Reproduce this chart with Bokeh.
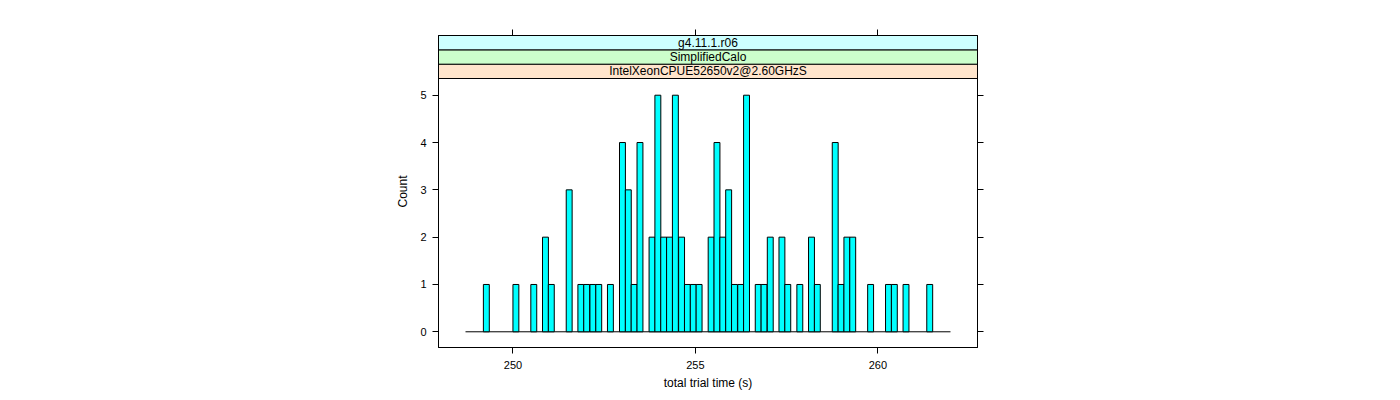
from bokeh.plotting import figure
from bokeh.models import Range1d, LinearAxis, FixedTicker
from bokeh.core.properties import value
from bokeh.embed import file_html
from bokeh.resources import INLINE

# ---- data ----
bin_left = [249.19, 250.00, 250.49, 250.81, 250.97, 251.46, 251.78, 251.94, 252.11,
            252.27, 252.59, 252.92, 253.08, 253.24, 253.40, 253.73, 253.89, 254.05,
            254.21, 254.37, 254.54, 254.70, 254.86, 255.02, 255.35, 255.51, 255.67,
            255.83, 255.99, 256.16, 256.32, 256.64, 256.80, 256.97, 257.29, 257.45,
            257.78, 258.10, 258.26, 258.75, 258.91, 259.07, 259.23, 259.72, 260.21,
            260.37, 260.69, 261.34]
counts = [1, 1, 1, 2, 1, 3, 1, 1, 1,
          1, 1, 4, 3, 1, 4, 2, 5, 2,
          2, 5, 2, 1, 1, 1, 2, 4, 2,
          3, 1, 1, 5, 1, 1, 2, 2, 1,
          1, 2, 1, 4, 1, 2, 2, 1, 1,
          1, 1, 1]
bin_width = 0.162
breaks_range = [248.70, 261.99]
x_ticks = [250, 255, 260]
y_ticks = [0, 1, 2, 3, 4, 5]
strip_labels = ["IntelXeonCPUE52650v2@2.60GHzS", "SimplifiedCalo", "g4.11.1.r06"]
strip_colors = ["#ffe5cc", "#ccffcc", "#ccffff"]
x_title = "total trial time (s)"
y_title = "Count"

FONT = "Liberation Sans"
X0, X1 = 247.96, 262.73
Y0, Y1 = -0.332, 6.262
PANEL_TOP = 5.353

p = figure(frame_width=539, frame_height=312,
           min_border_left=438, min_border_right=407,
           min_border_top=35, min_border_bottom=45,
           x_range=Range1d(X0, X1), y_range=Range1d(Y0, Y1),
           output_backend="svg", toolbar_location=None,
           x_axis_label=x_title, y_axis_label=y_title)
p.xgrid.visible = False
p.ygrid.visible = False
p.outline_line_color = "black"
p.background_fill_color = "white"
p.border_fill_color = "white"

# extra axes on top/right (ticks only)
p.add_layout(LinearAxis(), "above")
p.add_layout(LinearAxis(), "right")

for ax in p.xaxis:
    ax.ticker = FixedTicker(ticks=x_ticks)
for ax in p.yaxis:
    ax.ticker = FixedTicker(ticks=y_ticks)
for ax in p.axis:
    ax.minor_tick_line_color = None
    ax.major_tick_in = 0
    ax.major_tick_out = 6
    ax.major_tick_line_color = "black"
    ax.axis_line_color = "black"
    ax.major_label_text_font = FONT
    ax.major_label_text_font_size = "11px"
    ax.major_label_text_color = "black"
    ax.major_label_standoff = 6
    ax.axis_label_text_font = FONT
    ax.axis_label_text_font_size = "12px"
    ax.axis_label_text_font_style = "normal"
    ax.axis_label_text_color = "black"

p.above[0].major_label_text_color = None
p.right[0].major_label_text_color = None
p.below[0].major_label_standoff = 7
p.below[0].axis_label_standoff = 4
p.left[0].axis_label_standoff = 7

# baseline
p.segment(x0=[breaks_range[0]], x1=[breaks_range[1]], y0=[0], y1=[0],
          line_color="black", line_width=1)

# histogram bars
p.quad(left=bin_left, right=[b + bin_width for b in bin_left],
       bottom=[0] * len(counts), top=counts,
       fill_color="#00ffff", line_color="black", line_width=1)

# strips
sh = (Y1 - PANEL_TOP) / 3
bottoms = [PANEL_TOP + i * sh for i in range(3)]
p.quad(left=[X0] * 3, right=[X1] * 3, bottom=bottoms, top=[b + sh for b in bottoms],
       fill_color=strip_colors, line_color="black", line_width=1)
p.text(x=[(X0 + X1) / 2] * 3, y=[b + sh / 2 for b in bottoms], text=strip_labels,
       text_align="center", text_baseline="middle",
       text_font=value(FONT), text_font_size="12px", text_color="black")

open("out.html", "w").write(file_html(p, INLINE))
